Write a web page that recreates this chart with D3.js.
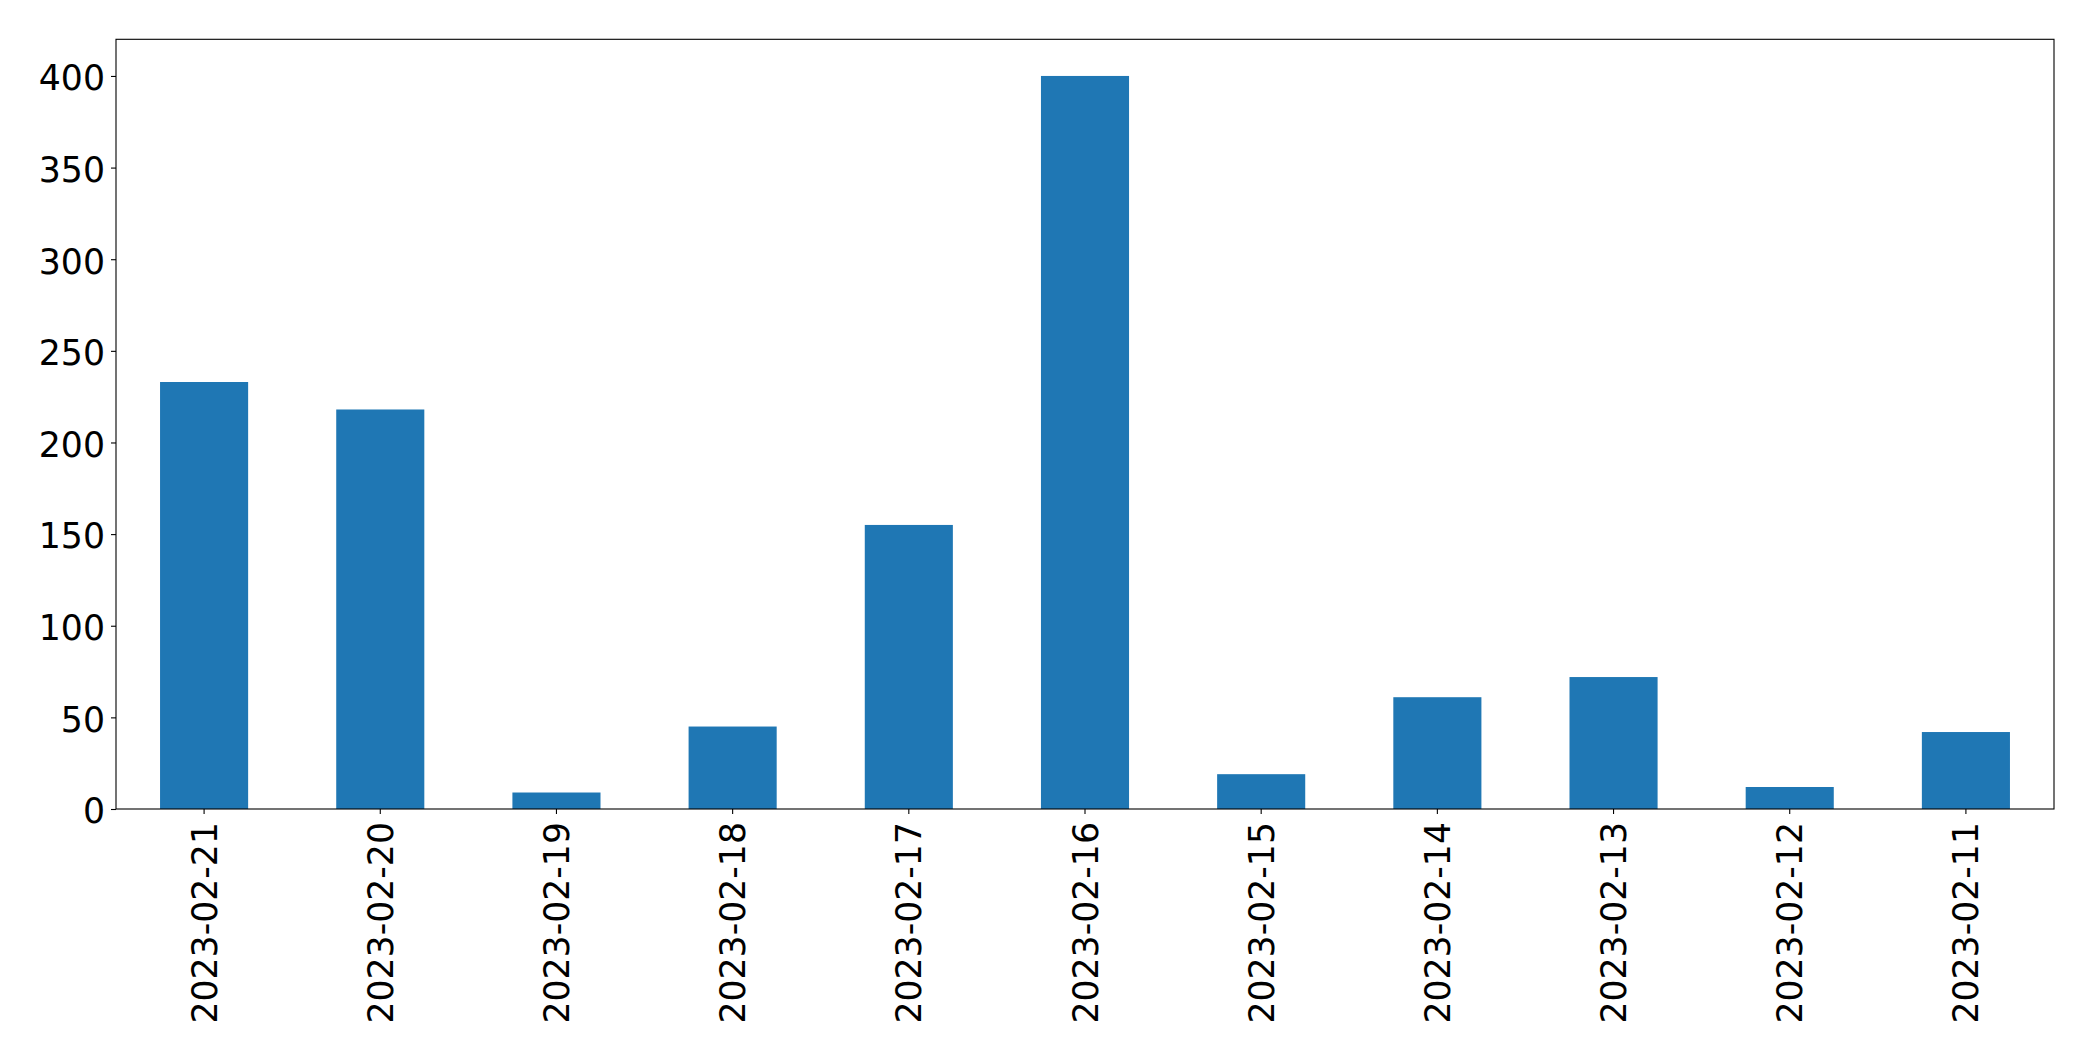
<!DOCTYPE html>
<html>
<head>
<meta charset="utf-8">
<script src="https://cdn.jsdelivr.net/npm/d3@7"></script>
<style>
  html, body { margin: 0; padding: 0; background: #fff; }
  svg { display: block; }
  text { font-family: "DejaVu Sans", sans-serif; fill: #000; }
</style>
</head>
<body>
<svg id="chart" width="2093" height="1061"></svg>
<script>
const categories = ["2023-02-21","2023-02-20","2023-02-19","2023-02-18","2023-02-17","2023-02-16","2023-02-15","2023-02-14","2023-02-13","2023-02-12","2023-02-11"];
const values = [233, 218, 9, 45, 155, 400, 19, 61, 72, 12, 42];
const yTicks = [0, 50, 100, 150, 200, 250, 300, 350, 400];

const svg = d3.select("#chart");
const mLeft = 116, mRight = 2054, mTop = 39.3, mBottom = 809;
const fontSize = 34.7;

const x = d3.scaleBand().domain(categories).range([mLeft, mRight]).paddingInner(0.5).paddingOuter(0.25);
const y = d3.scaleLinear().domain([0, 420]).range([mBottom, mTop]);

svg.append("g").selectAll("rect").data(values).join("rect")
  .attr("x", (d, i) => x(categories[i]))
  .attr("width", x.bandwidth())
  .attr("y", d => y(d))
  .attr("height", d => y(0) - y(d))
  .attr("fill", "#1f77b4");

// frame
svg.append("rect").attr("x", mLeft).attr("y", mTop).attr("width", mRight - mLeft).attr("height", mBottom - mTop)
  .attr("fill", "none").attr("stroke", "#000").attr("stroke-width", 1.1);

// y axis
const yAxis = d3.axisLeft(y).tickValues(yTicks).tickSize(5).tickPadding(6).tickFormat(d3.format("d"));
const gy = svg.append("g").attr("transform", `translate(${mLeft},0)`).call(yAxis);
gy.select(".domain").remove();
gy.selectAll(".tick line").attr("stroke", "#000").attr("stroke-width", 1.1);
gy.selectAll(".tick text").attr("font-size", fontSize).attr("font-family", "DejaVu Sans").attr("dy", "0.4em").attr("fill", "#000");

// x axis
const xAxis = d3.axisBottom(x).tickSize(5).tickPadding(0);
const gx = svg.append("g").attr("transform", `translate(0,${mBottom})`).call(xAxis);
gx.select(".domain").remove();
gx.selectAll(".tick line").attr("stroke", "#000").attr("stroke-width", 1.1);
gx.selectAll(".tick text")
  .attr("font-size", fontSize).attr("font-family", "DejaVu Sans").attr("fill", "#000")
  .attr("transform", "rotate(-90)")
  .attr("x", -13).attr("y", 0).attr("dy", "0.36em")
  .attr("text-anchor", "end");
</script>
</body>
</html>
